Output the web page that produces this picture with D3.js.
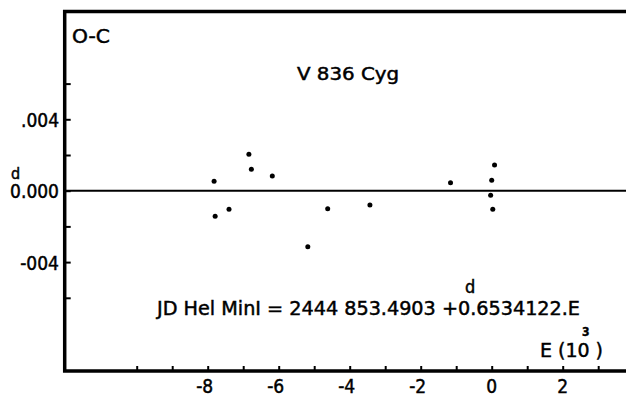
<!DOCTYPE html>
<html><head><meta charset="utf-8">
<script src="https://cdn.jsdelivr.net/npm/d3@7/dist/d3.min.js"></script>
<style>
html,body{margin:0;padding:0;background:#fff;}
svg{display:block;}
text{font-family:"DejaVu Sans Condensed","DejaVu Sans",sans-serif;fill:#000;stroke:#000;stroke-width:0.45px;}
</style></head>
<body>
<svg id="c" width="626" height="397"></svg>
<script>
// Data (E in units of 10^3 cycles, O-C in days)
const epochs = [-7.82, -7.79, -7.40, -6.84, -6.77, -6.18, -5.18, -4.62, -3.43, -1.16, 0.08, 0.00, -0.03, 0.03];
const oc     = [0.00053, -0.00143, -0.00104, 0.00204, 0.00120, 0.00082, -0.00314, -0.00101, -0.00080, 0.00045, 0.00144, 0.00058, -0.00026, -0.00104];
const xTicks = [-10, -9, -8, -7, -6, -5, -4, -3, -2, -1, 0, 1, 2, 3];
const xLabelValues = [-8, -6, -4, -2, 0, 2];
const xLabels = ["-8", "-6", "-4", "-2", "0", "2"];
const yTicks = [-0.006, -0.004, -0.002, 0, 0.002, 0.004, 0.006];
const yLabelValues = [0.004, 0, -0.004];
const yLabels = [".004", "0.000", "-004"];
const title = "V 836 Cyg";
const yTitle = "O-C";
const ephemeris = "JD Hel MinI = 2444  853.4903 +0.6534122.E";

const svg = d3.select("#c");
const x = d3.scaleLinear().domain([-8, 2]).range([207.7, 562.7]);
const y = d3.scaleLinear().domain([-0.006, 0.006]).range([297.8, 83.6]);
const fLeft = 64.7, fTop = 11.5, fBottom = 371, fRight = 626;

// zero line
svg.append("line").attr("x1", fLeft).attr("x2", fRight).attr("y1", y(0)).attr("y2", y(0))
  .attr("stroke", "#000").attr("stroke-width", 2);

// frame
svg.append("path").attr("d", `M${fRight},${fTop}H${fLeft}V${fBottom}H${fRight}`)
  .attr("fill", "none").attr("stroke", "#000").attr("stroke-width", 3.5);

// x axis ticks (inward, upward)
const xAxis = d3.axisTop(x).tickValues(xTicks).tickSize(5).tickFormat("");
const gx = svg.append("g").attr("transform", `translate(0,${fBottom})`).call(xAxis);
gx.select(".domain").remove();
gx.selectAll(".tick line").attr("stroke", "#000").attr("stroke-width", 2);

svg.selectAll(".xl").data(xLabelValues).join("text").attr("class", "xl")
  .attr("x", d => x(d) - (d < 0 ? 3 : 0)).attr("y", 393)
  .attr("text-anchor", "middle").attr("font-size", 19)
  .text((d, i) => xLabels[i]);

// y axis ticks (inward, to the right)
const yAxis = d3.axisRight(y).tickValues(yTicks).tickSize(6).tickFormat("");
const gy = svg.append("g").attr("transform", `translate(${fLeft},0)`).call(yAxis);
gy.select(".domain").remove();
gy.selectAll(".tick line").attr("stroke", "#000").attr("stroke-width", 2);

svg.selectAll(".yl").data(yLabelValues).join("text").attr("class", "yl")
  .attr("x", 59).attr("y", d => y(d) + 7.5)
  .attr("text-anchor", "end").attr("font-size", 19)
  .text((d, i) => yLabels[i]);
// superscript d on 0.000
svg.append("text").attr("x", 11).attr("y", 179).attr("font-size", 16).text("d");

// points
svg.selectAll(".pt").data(epochs).join("circle").attr("class", "pt")
  .attr("cx", d => x(d)).attr("cy", (d, i) => y(oc[i])).attr("r", 2.5).attr("fill", "#000");

// labels
svg.append("text").attr("x", 72).attr("y", 43).attr("font-size", 19)
  .attr("textLength", 38).attr("lengthAdjust", "spacingAndGlyphs").text(yTitle);
svg.append("text").attr("x", 297).attr("y", 80).attr("font-size", 18)
  .attr("textLength", 102).attr("lengthAdjust", "spacingAndGlyphs").text(title);
svg.append("text").attr("x", 157).attr("y", 315).attr("font-size", 20)
  .attr("textLength", 423).attr("lengthAdjust", "spacingAndGlyphs").text(ephemeris);
svg.append("text").attr("x", 465).attr("y", 293).attr("font-size", 18).text("d");
svg.append("text").attr("x", 540).attr("y", 357).attr("font-size", 20)
  .attr("textLength", 63).attr("lengthAdjust", "spacingAndGlyphs").text("E (10 )");
svg.append("text").attr("x", 582).attr("y", 336).attr("font-size", 12).attr("font-weight", "bold").text("3");
</script>
</body></html>
